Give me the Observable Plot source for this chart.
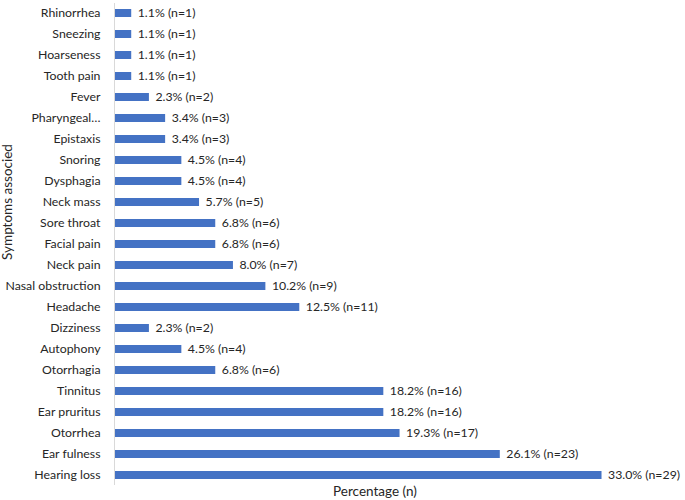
<!DOCTYPE html>
<html>
<head>
<meta charset="utf-8">
<script src="https://cdn.jsdelivr.net/npm/d3@7"></script>
<script src="https://cdn.jsdelivr.net/npm/@observablehq/plot@0.6"></script>
<style>
  html, body { margin: 0; padding: 0; background: #fff; }
  #chart svg { display: block; }
</style>
</head>
<body>
<div id="chart"></div>
<script>
const symptoms = ["Rhinorrhea", "Sneezing", "Hoarseness", "Tooth pain", "Fever", "Pharyngeal…", "Epistaxis", "Snoring", "Dysphagia", "Neck mass", "Sore throat", "Facial pain", "Neck pain", "Nasal obstruction", "Headache", "Dizziness", "Autophony", "Otorrhagia", "Tinnitus", "Ear pruritus", "Otorrhea", "Ear fulness", "Hearing loss"];
const percentages = [1.1, 1.1, 1.1, 1.1, 2.3, 3.4, 3.4, 4.5, 4.5, 5.7, 6.8, 6.8, 8.0, 10.2, 12.5, 2.3, 4.5, 6.8, 18.2, 18.2, 19.3, 26.1, 33.0];
const counts = [1, 1, 1, 1, 2, 3, 3, 4, 4, 5, 6, 6, 7, 9, 11, 2, 4, 6, 16, 16, 17, 23, 29];
const xLabel = "Percentage (n)";
const yLabel = "Symptoms associed";

const data = symptoms.map((s, i) => ({symptom: s, pct: percentages[i], n: counts[i]}));

const W = 685, H = 500;
const plot = Plot.plot({
  width: W,
  height: H,
  marginLeft: 115,
  marginRight: 54,
  marginTop: 3,
  marginBottom: 15,
  style: {fontFamily: "Lato, 'Open Sans', sans-serif", fontSize: "12.3px", color: "#262626", background: "#fff"},
  x: {domain: [0, 35], axis: null},
  y: {domain: symptoms, paddingInner: 0.62, paddingOuter: 0.2, label: null},
  marks: [
    Plot.barX(data, {x: "pct", y: "symptom", fill: "#4472C4"}),
    Plot.ruleX([0], {stroke: "#d9d9d9", strokeWidth: 1, dx: -1}),
    Plot.axisY({tickSize: 0, tickPadding: 15, label: null, fontSize: 12.3}),
    Plot.text(data, {x: "pct", y: "symptom", text: d => `${d.pct.toFixed(1)}% (n=${d.n})`, textAnchor: "start", dx: 6, fill: "#262626", fontSize: 12.3})
  ]
});

const svg = d3.select(plot);
svg.append("text")
  .attr("x", 375).attr("y", 496)
  .attr("text-anchor", "middle")
  .attr("font-size", 13.5)
  .attr("fill", "#262626")
  .text(xLabel);
svg.append("text")
  .attr("transform", "translate(12,202) rotate(-90)")
  .attr("text-anchor", "middle")
  .attr("font-size", 13.5)
  .attr("fill", "#262626")
  .text(yLabel);

document.getElementById("chart").appendChild(plot);
</script>
</body>
</html>
